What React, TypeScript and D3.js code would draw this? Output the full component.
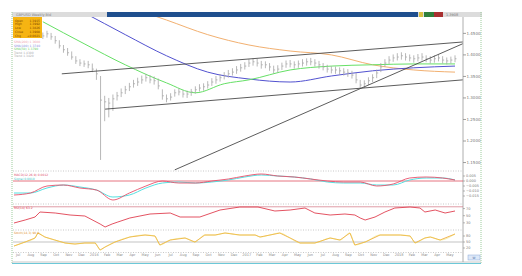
import React from 'react';
import * as d3 from 'd3';

// ---------------- DATA ----------------
// weekly price bars, index 0..100
const barHigh = [
  1.452, 1.456, 1.451, 1.444, 1.434, 1.423, 1.416, 1.408, 1.397, 1.390,
  1.387, 1.386, 1.380, 1.368, 1.351, 1.305, 1.300, 1.308, 1.314, 1.322,
  1.328, 1.335, 1.342, 1.347, 1.352, 1.356, 1.353, 1.350, 1.345, 1.320,
  1.308, 1.311, 1.320, 1.322, 1.318, 1.317, 1.321, 1.327, 1.332, 1.334,
  1.339, 1.346, 1.351, 1.355, 1.360, 1.365, 1.369, 1.374, 1.379, 1.383,
  1.390, 1.392, 1.391, 1.386, 1.385, 1.381, 1.375, 1.376, 1.382, 1.387,
  1.388, 1.385, 1.387, 1.390, 1.392, 1.393, 1.390, 1.386, 1.381, 1.377,
  1.374, 1.373, 1.371, 1.369, 1.367, 1.363, 1.358, 1.342, 1.341, 1.348,
  1.355, 1.366, 1.381, 1.390, 1.397, 1.401, 1.404, 1.406, 1.404, 1.401,
  1.399, 1.402, 1.404, 1.399, 1.397, 1.399, 1.401, 1.397, 1.394, 1.396,
  1.399,
];
const barLow = [
  1.437, 1.440, 1.435, 1.426, 1.415, 1.405, 1.398, 1.389, 1.379, 1.374,
  1.372, 1.369, 1.360, 1.342, 1.156, 1.246, 1.255, 1.270, 1.294, 1.302,
  1.309, 1.316, 1.324, 1.328, 1.333, 1.338, 1.334, 1.331, 1.320, 1.296,
  1.290, 1.294, 1.303, 1.306, 1.301, 1.300, 1.305, 1.310, 1.315, 1.317,
  1.322, 1.328, 1.333, 1.338, 1.343, 1.347, 1.352, 1.356, 1.361, 1.366,
  1.372, 1.375, 1.373, 1.368, 1.369, 1.363, 1.357, 1.359, 1.365, 1.370,
  1.371, 1.368, 1.370, 1.373, 1.375, 1.376, 1.373, 1.368, 1.364, 1.359,
  1.357, 1.356, 1.354, 1.352, 1.349, 1.345, 1.334, 1.321, 1.323, 1.330,
  1.337, 1.346, 1.360, 1.372, 1.379, 1.384, 1.387, 1.389, 1.387, 1.385,
  1.382, 1.385, 1.387, 1.383, 1.380, 1.382, 1.385, 1.380, 1.378, 1.380,
  1.383,
];
const barClose = [
  1.444, 1.449, 1.442, 1.433, 1.421, 1.412, 1.405, 1.395, 1.386, 1.381,
  1.379, 1.377, 1.367, 1.356, 1.295, 1.291, 1.288, 1.298, 1.305, 1.312,
  1.319, 1.326, 1.333, 1.337, 1.342, 1.347, 1.342, 1.340, 1.328, 1.305,
  1.298, 1.302, 1.312, 1.314, 1.309, 1.309, 1.314, 1.319, 1.323, 1.326,
  1.330, 1.337, 1.342, 1.347, 1.351, 1.356, 1.360, 1.365, 1.370, 1.374,
  1.381, 1.384, 1.381, 1.377, 1.377, 1.372, 1.365, 1.367, 1.374, 1.379,
  1.379, 1.377, 1.379, 1.381, 1.384, 1.384, 1.381, 1.377, 1.372, 1.367,
  1.365, 1.365, 1.363, 1.360, 1.358, 1.353, 1.342, 1.330, 1.333, 1.340,
  1.347, 1.358, 1.372, 1.381, 1.388, 1.393, 1.395, 1.398, 1.395, 1.393,
  1.391, 1.393, 1.395, 1.391, 1.388, 1.391, 1.393, 1.388, 1.386, 1.388,
  1.391,
];

// moving averages (sampled at bar indices)
const maFastIdx = [0, 10, 20, 30, 37, 44, 50, 60, 70, 80, 90, 100];
const maFast = [1.477, 1.426, 1.377, 1.335, 1.312, 1.333, 1.342, 1.365, 1.374, 1.377, 1.379, 1.379];
const maIdx = [0, 10, 20, 30, 40, 50, 60, 70, 80, 90, 100];
const maMid = [1.547, 1.498, 1.447, 1.398, 1.360, 1.344, 1.337, 1.351, 1.363, 1.370, 1.374];
const maSlow = [1.581, 1.549, 1.514, 1.481, 1.447, 1.423, 1.409, 1.400, 1.377, 1.365, 1.360];

// trend lines [startIdx, startPrice, endIdx, endPrice]
const trendUpper = [4.6, 1.356, 101.9, 1.430];
const trendLower = [15.1, 1.274, 101.9, 1.342];
const trendSteep = [32.0, 1.133, 101.9, 1.426];

const priceTicks = [1.15, 1.2, 1.25, 1.3, 1.35, 1.4, 1.45];

// MACD pane
const macdIdx = [-7, -3, 1, 5, 9, 13, 17, 21, 25, 29, 33, 37, 41, 45, 49, 53, 57, 61, 65, 69, 73, 77, 81, 85, 89, 93, 97, 100];
const macdLine = [
  -0.014, -0.012, -0.005, -0.004, -0.007, -0.009, -0.019, -0.012, -0.005, 0.0,
  -0.002, -0.002, 0.0, 0.002, 0.005, 0.007, 0.005, 0.004, 0.002, 0.0,
  -0.001, -0.001, -0.005, -0.003, 0.003, 0.004, 0.003, 0.001,
];
const macdSignal = [
  -0.012, -0.012, -0.007, -0.004, -0.006, -0.009, -0.016, -0.014, -0.007, -0.002,
  -0.001, -0.002, -0.001, 0.001, 0.004, 0.006, 0.005, 0.004, 0.002, -0.001,
  -0.002, -0.002, -0.004, -0.004, 0.001, 0.003, 0.003, 0.001,
];
const macdTicks = [0.005, 0.0, -0.005, -0.01, -0.015];

// RSI pane
const rsiIdx = [-7, -4.3, -1.9, -0.7, 3.0, 6.6, 10.2, 13.9, 15.1, 16.8, 18.2, 21.1, 26.0, 30.9, 33.3, 38.1, 43.0, 47.8, 52.2, 56.3, 60.0, 63.6, 66.0, 69.7, 73.3, 75.7, 77.0, 78.2, 80.6, 83.0, 85.4, 89.1, 91.5, 92.7, 95.2, 97.6, 100];
const rsiVal = [
  29.6, 38.0, 46.4, 60.4, 57.6, 52.0, 49.2, 26.8, 18.4, 26.8,
  32.4, 43.6, 54.8, 57.6, 46.4, 46.4, 66.0, 74.4, 74.4, 63.2,
  66.0, 71.6, 57.6, 52.0, 54.8, 52.0, 43.6, 38.0, 46.4, 60.4,
  71.6, 74.4, 71.6, 60.4, 66.0, 57.6, 63.2,
];
const rsiTicks = [70, 50, 30];

// Stochastic pane
const stochIdx = [-7, -4.3, -1.9, -1.2, 0.5, 2.9, 5.4, 7.8, 10.2, 12.7, 13.9, 15.1, 17.5, 21.1, 24.8, 27.2, 28.4, 30.9, 34.5, 36.9, 39.3, 41.8, 44.2, 47.8, 51.5, 52.7, 55.1, 57.5, 60.0, 62.4, 66.0, 69.7, 72.1, 74.5, 75.7, 78.2, 81.8, 86.7, 89.1, 90.3, 92.7, 94.0, 96.4, 100];
const stochVal = [
  30, 50, 70, 95, 75, 60, 45, 40, 45, 45,
  10, 25, 50, 75, 85, 80, 35, 60, 70, 50,
  85, 85, 95, 85, 85, 75, 85, 95, 70, 45,
  45, 70, 60, 95, 35, 50, 85, 85, 80, 45,
  70, 75, 60, 90,
];
const stochTicks = [80, 50, 20];

const dateLabels = [
  'Jul', 'Aug', 'Sep', 'Oct', 'Nov', 'Dec', '2016', 'Feb', 'Mar', 'Apr', 'May', 'Jun',
  'Jul', 'Aug', 'Sep', 'Oct', 'Nov', 'Dec', '2017', 'Feb', 'Mar', 'Apr', 'May', 'Jun',
  'Jul', 'Aug', 'Sep', 'Oct', 'Nov', 'Dec', '2018', 'Feb', 'Mar', 'Apr', 'May',
];

const legendRows = [
  ['Open', '1.3915'],
  ['High', '1.3992'],
  ['Low', '1.3826'],
  ['Close', '1.3908'],
  ['Chg', '+0.0021'],
];

// ---------------- LAYOUT ----------------
const L = 13;
const AX = 463;
const MAIN_TOP = 17;
const MAIN_BOT = 170;
const MACD_BOT = 204;
const RSI_BOT = 230;
const ST_BOT = 252;

const FONT = 'DejaVu Sans, Liberation Sans, sans-serif';

export default function App() {
  const x = d3.scaleLinear().domain([-7, 100]).range([14, 455]);
  const y = d3.scaleLinear().domain([1.135, 1.488]).range([169, 17]);
  const yMacd = d3.scaleLinear().domain([-0.023, 0.009]).range([204, 172]);
  const yRsi = d3.scaleLinear().domain([10, 80]).range([230, 205]);
  const yStoch = d3.scaleLinear().domain([0, 100]).range([252, 232]);

  const maLine = (idx: number[], vals: number[]) =>
    d3.line<number>().x((_, i) => x(idx[i])).y((v) => y(v)).curve(d3.curveMonotoneX)(vals) || '';
  const indLine = (idx: number[], vals: number[], sc: d3.ScaleLinear<number, number>, smooth: boolean) =>
    d3.line<number>().x((_, i) => x(idx[i])).y((v) => sc(v)).curve(smooth ? d3.curveMonotoneX : d3.curveLinear)(vals) || '';

  const trend = (t: number[], key: string) => (
    <line key={key} x1={x(t[0])} y1={y(t[1])} x2={x(t[2])} y2={y(t[3])} stroke="#4a4a4a" strokeWidth={0.9} />
  );

  const labelStep = (100 - -6) / (dateLabels.length - 0.6);

  return (
    <svg width={522} height={276} style={{ position: 'absolute', left: 0, top: 0, background: '#fff' }} fontFamily={FONT}>
      <defs>
        <clipPath id="mainClip">
          <rect x={L} y={MAIN_TOP} width={AX - L} height={MAIN_BOT - MAIN_TOP + 1} />
        </clipPath>
      </defs>

      {/* header bar */}
      <rect x={12} y={12} width={470} height={5} fill="#dcdcdc" />
      <rect x={107} y={12} width={311} height={5} fill="#1f4f8e" />
      <rect x={419} y={12} width={4} height={5} fill="#d8c040" />
      <rect x={424} y={12} width={10} height={5} fill="#2f7f3a" />
      <rect x={434} y={12} width={9} height={5} fill="#a83030" />
      <text x={16} y={16} fontSize={3.5} fill="#888">GBPUSD Weekly  Bid</text>
      <text x={446} y={16} fontSize={3.5} fill="#777">1.3908</text>

      {/* frame */}
      <line x1={12} y1={12} x2={12} y2={263} stroke="#9ccc9c" strokeDasharray="1,1" />
      <line x1={481} y1={12} x2={481} y2={263} stroke="#9ccc9c" strokeDasharray="1,1" />
      <line x1={12} y1={262} x2={481} y2={262} stroke="#c8c8c8" />
      <line x1={12} y1={263.5} x2={481} y2={263.5} stroke="#6cc8d8" />

      {/* pane separators */}
      {[MAIN_BOT + 1, MACD_BOT, RSI_BOT, ST_BOT + 0.5].map((yy, i) => (
        <line key={'sep' + i} x1={L} x2={AX} y1={yy} y2={yy} stroke="#c8c8c8" strokeDasharray="1,1.5" />
      ))}

      {/* main pane */}
      <g clipPath="url(#mainClip)">
        <path d={maLine(maIdx, maSlow)} fill="none" stroke="#f2b070" strokeWidth={1} />
        <path d={maLine(maIdx, maMid)} fill="none" stroke="#5252d0" strokeWidth={1} />
        <path d={maLine(maFastIdx, maFast)} fill="none" stroke="#66e066" strokeWidth={1} />
        {barHigh.map((h, i) => (
          <g key={'b' + i} stroke="#a6a6a6" strokeWidth={0.8}>
            <line x1={x(i)} x2={x(i)} y1={y(h)} y2={y(barLow[i])} />
            <line x1={x(i)} x2={x(i) + 1.5} y1={y(barClose[i])} y2={y(barClose[i])} />
          </g>
        ))}
        {trend(trendUpper, 'tu')}
        {trend(trendLower, 'tl')}
        {trend(trendSteep, 'ts')}
      </g>

      {/* legend box */}
      <rect x={13} y={17} width={29} height={21} fill="#f6b412" />
      {legendRows.map((r, i) => (
        <g key={'lg' + i}>
          <text x={15} y={21.5 + i * 3.8} fontSize={3} fill="#7a4800">{r[0]}</text>
          <text x={40} y={21.5 + i * 3.8} fontSize={3} fill="#7a4800" textAnchor="end">{r[1]}</text>
        </g>
      ))}
      <text x={14} y={43} fontSize={3} fill="#f0a0b0">SMA(200) 1.3600</text>
      <text x={14} y={46.5} fontSize={3} fill="#8888dd">SMA(100) 1.3740</text>
      <text x={14} y={50} fontSize={3} fill="#66cc66">SMA(50) 1.3790</text>
      <text x={14} y={53.5} fontSize={3} fill="#aaaaaa">Trend 1.4300</text>
      <text x={14} y={57} fontSize={3} fill="#aaaaaa">Trend 1.3420</text>

      {/* right axis */}
      <line x1={AX} x2={AX} y1={MAIN_TOP} y2={262} stroke="#9a9a9a" strokeWidth={0.8} />
      {priceTicks.map((t) => (
        <g key={'pt' + t}>
          <line x1={AX} x2={AX + 3} y1={y(t)} y2={y(t)} stroke="#888" strokeWidth={0.8} />
          <text x={AX + 3.5} y={y(t) + 1.3} fontSize={4} fill="#777">{d3.format('.4f')(t)}</text>
        </g>
      ))}

      {/* MACD pane */}
      <line x1={L} x2={AX} y1={yMacd(0)} y2={yMacd(0)} stroke="#e05060" strokeWidth={0.8} />
      <path d={indLine(macdIdx, macdSignal, yMacd, true)} fill="none" stroke="#55e0e0" strokeWidth={1} />
      <path d={indLine(macdIdx, macdLine, yMacd, true)} fill="none" stroke="#e8506a" strokeWidth={0.9} />
      <text x={14} y={176} fontSize={3} fill="#e05070">MACD(12,26,9) 0.0012</text>
      <text x={14} y={179.5} fontSize={3} fill="#40c8c8">Signal 0.0010</text>
      {macdTicks.map((t) => (
        <g key={'mt' + t}>
          <line x1={AX} x2={AX + 2} y1={yMacd(t)} y2={yMacd(t)} stroke="#888" strokeWidth={0.6} />
          <text x={AX + 3} y={yMacd(t) + 1.2} fontSize={3.5} fill="#777">{d3.format('.3f')(t)}</text>
        </g>
      ))}

      {/* RSI pane */}
      <line x1={L} x2={AX} y1={yRsi(75)} y2={yRsi(75)} stroke="#d07080" strokeWidth={0.7} />
      <path d={indLine(rsiIdx, rsiVal, yRsi, false)} fill="none" stroke="#e04050" strokeWidth={0.9} />
      <text x={14} y={208.5} fontSize={3} fill="#e04050">RSI(14) 63.2</text>
      {rsiTicks.map((t) => (
        <g key={'rt' + t}>
          <line x1={AX} x2={AX + 2} y1={yRsi(t)} y2={yRsi(t)} stroke="#888" strokeWidth={0.6} />
          <text x={AX + 3} y={yRsi(t) + 1.2} fontSize={3.5} fill="#777">{t}</text>
        </g>
      ))}

      {/* Stochastic pane */}
      <line x1={L} x2={AX} y1={yStoch(50)} y2={yStoch(50)} stroke="#b4b4b4" strokeWidth={0.8} />
      <path d={indLine(stochIdx, stochVal, yStoch, false)} fill="none" stroke="#f0a840" strokeWidth={0.9} />
      <path d={indLine(stochIdx, stochVal, yStoch, true)} fill="none" stroke="#e8dc50" strokeWidth={0.6} opacity={0.8} />
      <text x={14} y={233.5} fontSize={3} fill="#e09030">Stoch(14,3) 90.0</text>
      {stochTicks.map((t) => (
        <g key={'st' + t}>
          <line x1={AX} x2={AX + 2} y1={yStoch(t)} y2={yStoch(t)} stroke="#888" strokeWidth={0.6} />
          <text x={AX + 3} y={yStoch(t) + 1.2} fontSize={3.5} fill="#777">{t}</text>
        </g>
      ))}

      {/* date axis */}
      {dateLabels.map((lab, i) => (
        <text key={'d' + i} x={x(-6 + i * labelStep)} y={255.5} fontSize={3.5} fill="#888" textAnchor="middle">{lab}</text>
      ))}

      {/* corner badge */}
      <rect x={468} y={255} width={12} height={5} fill="#dde8f8" stroke="#8aa8d8" strokeWidth={0.5} />
      <text x={474} y={259} fontSize={3} fill="#3a5a9a" textAnchor="middle">W</text>
    </svg>
  );
}
